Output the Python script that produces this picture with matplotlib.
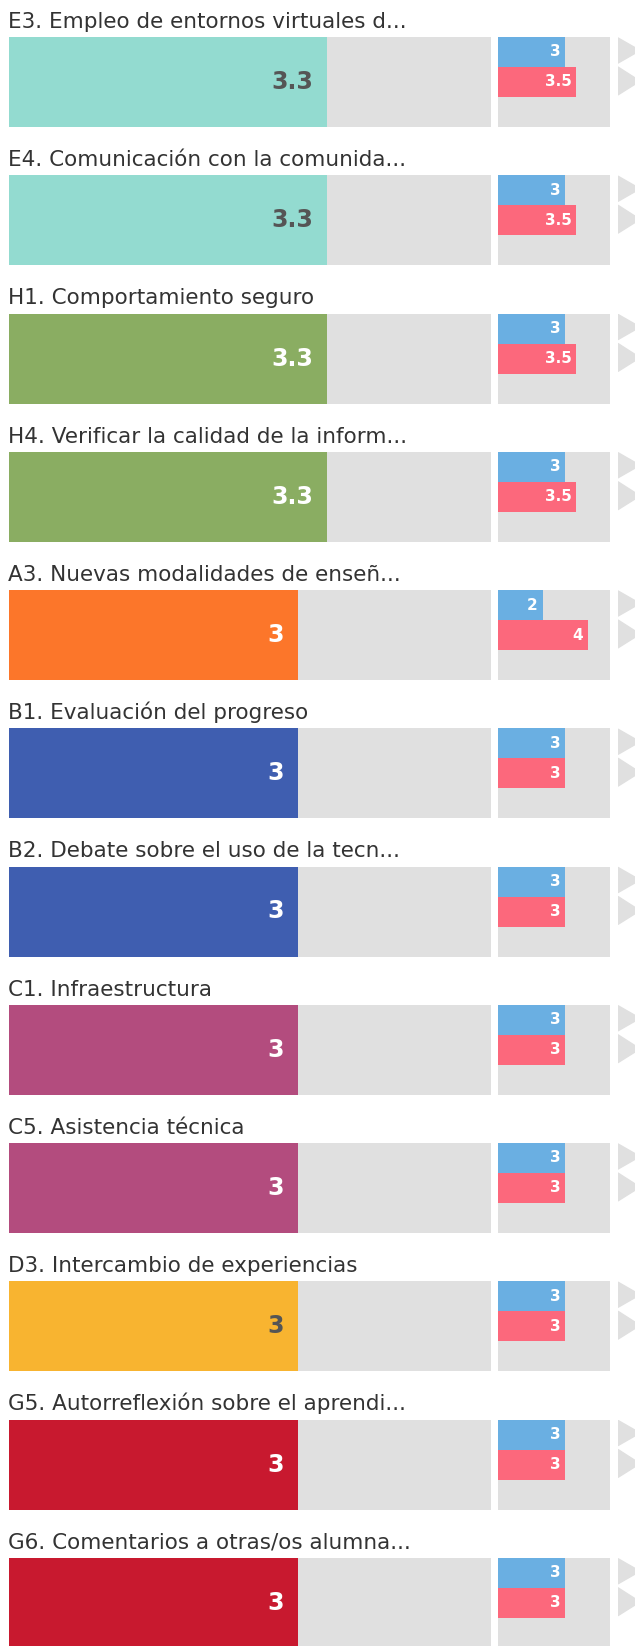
import matplotlib.pyplot as plt
from matplotlib.patches import Polygon

titles = ['E3. Empleo de entornos virtuales d...',
          'E4. Comunicación con la comunida...',
          'H1. Comportamiento seguro',
          'H4. Verificar la calidad de la inform...',
          'A3. Nuevas modalidades de enseñ...',
          'B1. Evaluación del progreso',
          'B2. Debate sobre el uso de la tecn...',
          'C1. Infraestructura',
          'C5. Asistencia técnica',
          'D3. Intercambio de experiencias',
          'G5. Autorreflexión sobre el aprendi...',
          'G6. Comentarios a otras/os alumna...']
values = [3.3, 3.3, 3.3, 3.3, 3, 3, 3, 3, 3, 3, 3, 3]
blue_vals = [3, 3, 3, 3, 2, 3, 3, 3, 3, 3, 3, 3]
red_vals = [3.5, 3.5, 3.5, 3.5, 4, 3, 3, 3, 3, 3, 3, 3]
colors = ['#93dbd0', '#93dbd0', '#8aad62', '#8aad62', '#fc762a', '#3f5eb0',
          '#3f5eb0', '#b34c7e', '#b34c7e', '#f8b430', '#c8192f', '#c8192f']
dark_label = ['#93dbd0', '#f8b430']

W, H = 635, 1646
fig = plt.figure(figsize=(W / 100, H / 100), dpi=100)
grey = '#e0e0e0'


def box(x0, top, w, h):
    return [x0 / W, 1 - (top + h) / H, w / W, h / H]


for i, t in enumerate(titles):
    top = 37 + 138.25 * i
    fig.text(8 / W, 1 - (top - 9) / H, t, fontsize=15.5, color='#333333',
             ha='left', va='baseline')

    # main bar
    ax = fig.add_axes(box(9, top, 482, 90))
    ax.add_patch(plt.Rectangle((0, 0), 1, 1, transform=ax.transAxes,
                               color=grey, zorder=0))
    ax.barh(0, values[i], height=1, color=colors[i])
    ax.set_xlim(0, 5)
    ax.set_ylim(-0.5, 0.5)
    ax.axis('off')
    tc = '#555555' if colors[i] in dark_label else 'white'
    ax.annotate(f'{values[i]:g}', xy=(values[i], 0), xytext=(-10, 0),
                textcoords='offset points', ha='right', va='center',
                fontsize=17, fontweight='bold', color=tc)

    # small comparison bars
    sx = fig.add_axes(box(498, top, 112, 90))
    sx.add_patch(plt.Rectangle((0, 0), 1, 1, transform=sx.transAxes,
                               color=grey, zorder=0))
    sx.barh([0.5, 1.5], [blue_vals[i], red_vals[i]], height=1,
            color=['#6aafe2', '#fc687c'])
    sx.set_xlim(0, 5)
    sx.set_ylim(3, 0)
    sx.axis('off')
    for y, v in zip([0.5, 1.5], [blue_vals[i], red_vals[i]]):
        sx.annotate(f'{v:g}', xy=(v, y), xytext=(-3.5, 0),
                    textcoords='offset points', ha='right', va='center',
                    fontsize=11, fontweight='bold', color='white')

    # arrows
    tx = fig.add_axes(box(618, top, 22, 60))
    tx.set_xlim(0, 1)
    tx.set_ylim(2, 0)
    tx.axis('off')
    tx.add_patch(Polygon([(0, 0.03), (1, 0.45), (0, 0.87)], color=grey))
    tx.add_patch(Polygon([(0, 1.0), (1, 1.47), (0, 1.93)], color=grey))

fig.savefig('out.png', dpi=100)
